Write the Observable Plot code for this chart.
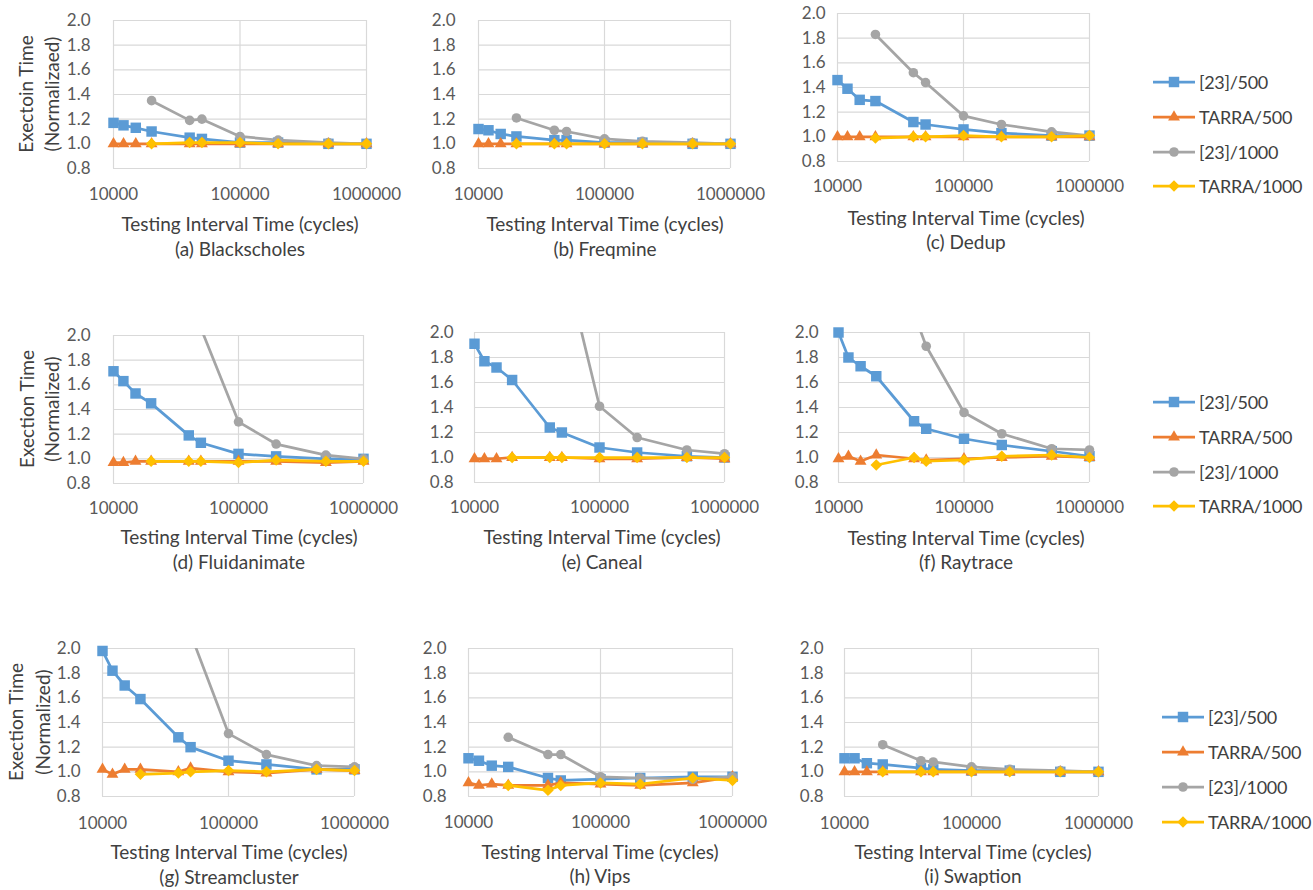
<!DOCTYPE html>
<html><head><meta charset="utf-8">
<script src="https://cdn.jsdelivr.net/npm/d3@7"></script>
<script src="https://cdn.jsdelivr.net/npm/@observablehq/plot@0.6"></script>
<style>
html,body{margin:0;padding:0;background:#fff;}
#root{position:relative;width:1313px;height:890px;overflow:hidden;font-family:Lato,"Open Sans",sans-serif;color:#595959;}
.t{position:absolute;transform:translate(-50%,-50%);white-space:nowrap;font-size:19px;color:#404040;line-height:1;}
.yt{position:absolute;transform:translate(-50%,-50%) rotate(-90deg);white-space:nowrap;font-size:19px;color:#404040;line-height:1;}
.lg{position:absolute;display:flex;align-items:center;transform:translateY(-50%);font-size:18px;letter-spacing:-0.3px;color:#404040;white-space:nowrap;}
svg.p{position:absolute;}
</style></head><body><div id="root"></div>
<script>
// ---- data ----
const intervals = [10000, 12000, 15000, 20000, 40000, 50000, 100000, 200000, 500000, 1000000];
const intervals1000 = [20000, 40000, 50000, 100000, 200000, 500000, 1000000];
const panelNames = ["(a) Blackscholes", "(b) Freqmine", "(c) Dedup", "(d) Fluidanimate", "(e) Caneal", "(f) Raytrace", "(g) Streamcluster", "(h) Vips", "(i) Swaption"];
const seriesNames = ["[23]/500", "TARRA/500", "[23]/1000", "TARRA/1000"];
const xTicks = [10000, 100000, 1000000];
const yTicks = [0.8, 1.0, 1.2, 1.4, 1.6, 1.8, 2.0];
const xTitle = "Testing Interval Time (cycles)";
const yTitleA = ["Exectoin Time", "(Normalizaed)"];
const yTitleB = ["Exection Time", "(Normalized)"];

const ref500 = [
  [1.17, 1.15, 1.13, 1.10, 1.05, 1.04, 1.01, 1.01, 1.00, 1.00],
  [1.12, 1.11, 1.08, 1.06, 1.03, 1.03, 1.01, 1.01, 1.00, 1.00],
  [1.46, 1.39, 1.30, 1.29, 1.12, 1.10, 1.06, 1.03, 1.01, 1.01],
  [1.71, 1.63, 1.53, 1.45, 1.19, 1.13, 1.04, 1.02, 1.00, 1.00],
  [1.91, 1.77, 1.72, 1.62, 1.24, 1.20, 1.08, 1.04, 1.01, 1.00],
  [2.00, 1.80, 1.73, 1.65, 1.29, 1.23, 1.15, 1.10, 1.05, 1.01],
  [1.98, 1.82, 1.70, 1.59, 1.28, 1.20, 1.09, 1.06, 1.02, 1.02],
  [1.11, 1.09, 1.05, 1.04, 0.95, 0.93, 0.94, 0.95, 0.96, 0.96],
  [1.11, 1.11, 1.07, 1.06, 1.03, 1.02, 1.01, 1.01, 1.00, 1.00]
];
const tarra500 = [
  [1.00, 1.00, 1.00, 1.00, 1.00, 1.00, 1.00, 1.00, 1.00, 1.00],
  [1.00, 1.00, 1.00, 1.00, 1.00, 1.00, 1.00, 1.00, 1.00, 1.00],
  [1.00, 1.00, 1.00, 1.00, 1.00, 1.00, 1.00, 1.00, 1.00, 1.00],
  [0.97, 0.97, 0.98, 0.98, 0.98, 0.98, 0.98, 0.98, 0.97, 0.98],
  [0.99, 0.99, 0.99, 1.00, 1.00, 1.00, 0.99, 0.99, 1.00, 0.99],
  [0.99, 1.01, 0.97, 1.02, 0.99, 0.98, 0.99, 1.00, 1.01, 1.00],
  [1.02, 0.98, 1.02, 1.02, 1.00, 1.03, 1.00, 0.99, 1.02, 1.01],
  [0.91, 0.89, 0.90, 0.89, 0.89, 0.91, 0.90, 0.89, 0.91, 0.96],
  [1.00, 1.00, 1.00, 1.00, 1.00, 1.00, 1.00, 1.00, 1.00, 1.00]
];
const ref1000 = [
  [1.35, 1.19, 1.20, 1.06, 1.03, 1.01, 1.00],
  [1.21, 1.11, 1.10, 1.04, 1.02, 1.01, 1.00],
  [1.83, 1.52, 1.44, 1.17, 1.10, 1.04, 1.01],
  [3.20, 2.40, 2.06, 1.30, 1.12, 1.03, 1.00],
  [3.80, 3.00, 2.65, 1.41, 1.16, 1.06, 1.03],
  [3.50, 2.15, 1.89, 1.36, 1.19, 1.07, 1.06],
  [3.40, 2.50, 2.12, 1.31, 1.14, 1.05, 1.04],
  [1.28, 1.14, 1.14, 0.96, 0.95, 0.94, 0.96],
  [1.22, 1.09, 1.08, 1.04, 1.02, 1.01, 1.00]
];
const tarra1000 = [
  [1.00, 1.01, 1.01, 1.01, 1.00, 1.00, 1.00],
  [1.00, 1.00, 1.00, 1.00, 1.00, 1.00, 1.00],
  [0.99, 1.00, 1.00, 1.01, 1.00, 1.00, 1.01],
  [0.98, 0.98, 0.98, 0.97, 0.99, 0.98, 0.98],
  [1.00, 1.00, 1.00, 1.00, 1.00, 1.00, 1.00],
  [0.94, 1.00, 0.97, 0.98, 1.01, 1.02, 1.00],
  [0.98, 0.99, 1.00, 1.01, 1.00, 1.02, 1.01],
  [0.89, 0.85, 0.89, 0.91, 0.90, 0.95, 0.93],
  [1.00, 1.00, 1.00, 1.00, 1.00, 1.00, 1.00]
];

// ---- styling / layout ----
const colors = ["#5B9BD5", "#ED7D31", "#A5A5A5", "#FFC000"];
const symbols = ["square", "triangle", "circle", "diamond2"];
const d3symbols = [d3.symbolSquare, d3.symbolTriangle, d3.symbolCircle, d3.symbolDiamond2];
const radii = [5.9, 4.4, 4.8, 5.2];
// [plotLeft, plotRight, plotTop, plotBottom, yLabelGap, xLabelPad]
const layout = [
  [113, 366, 20, 168, 23, 19],
  [478, 730, 20, 168, 23, 19],
  [837, 1089, 13, 161, 12, 18],
  [113, 363, 335, 483, 23, 18],
  [474, 724, 332, 482, 21, 18],
  [838, 1089, 332, 482, 20, 18],
  [102, 354, 648, 796, 22, 20],
  [468, 732, 648, 796, 22, 19],
  [844, 1098, 648, 796, 21, 20]
];
// caption centers: [titleX, titleY, subY]
const captions = [
  [240, 223, 248], [605, 223, 248], [966, 217, 241],
  [239, 536, 561], [602, 536, 561], [966, 537, 561],
  [229, 851, 876], [600, 851, 875], [973, 851, 875]
];
const yTitleLayout = [
  [0, yTitleA, 25, 51], [3, yTitleB, 26, 51], [6, yTitleB, 15, 42]
];
const legendLayout = [
  [1153, 42, [82, 117, 152, 186]],
  [1153, 42, [402, 437, 472, 506]],
  [1162, 42, [717, 752, 787, 822]]
];

const root = document.getElementById("root");

function panel(i) {
  const [L, R, T, B, gap, pad] = layout[i];
  const mL = 70, mR = 45, mT = 14, mB = 40;
  const rows = (vals, xs) => xs.map((x, k) => ({x, y: vals[k]}));
  const series = [
    rows(ref500[i], intervals), rows(tarra500[i], intervals),
    rows(ref1000[i], intervals1000), rows(tarra1000[i], intervals1000)
  ];
  const marks = [
    Plot.gridX({ticks: xTicks, stroke: "#D9D9D9", strokeOpacity: 1, strokeWidth: 1.2}),
    Plot.gridY({ticks: yTicks, stroke: "#D9D9D9", strokeOpacity: 1, strokeWidth: 1.2}),
    Plot.axisX({ticks: xTicks, tickSize: 0, tickPadding: pad, tickFormat: d => String(d), label: null}),
    Plot.axisY({ticks: yTicks, tickSize: 0, tickPadding: gap, tickFormat: d => d.toFixed(1), label: null})
  ];
  series.forEach((s, j) => {
    marks.push(Plot.line(s, {x: "x", y: "y", stroke: colors[j], strokeWidth: 2.75, clip: j === 2}));
    marks.push(Plot.dot(s.filter(d => d.y <= 2.0001), {x: "x", y: "y", symbol: symbols[j], fill: colors[j], r: radii[j]}));
  });
  const svg = Plot.plot({
    width: R - L + mL + mR, height: B - T + mT + mB,
    marginLeft: mL, marginRight: mR, marginTop: mT, marginBottom: mB,
    x: {type: "log", domain: [1e4, 1e6]},
    y: {domain: [0.8, 2.0]},
    style: {fontFamily: "Lato, 'Open Sans', sans-serif", fontSize: "17px", color: "#595959", background: "transparent", overflow: "visible"},
    marks
  });
  svg.classList.add("p");
  svg.style.left = (L - mL) + "px";
  svg.style.top = (T - mT) + "px";
  root.appendChild(svg);

  const [tx, ty, sy] = captions[i];
  const t1 = document.createElement("div");
  t1.className = "t"; t1.textContent = xTitle;
  t1.style.left = tx + "px"; t1.style.top = ty + "px";
  root.appendChild(t1);
  const t2 = document.createElement("div");
  t2.className = "t"; t2.textContent = panelNames[i];
  t2.style.left = tx + "px"; t2.style.top = sy + "px";
  root.appendChild(t2);
}
for (let i = 0; i < 9; i++) panel(i);

for (const [pi, lines, x1, x2] of yTitleLayout) {
  const [L, R, T, B] = layout[pi];
  const cy = (T + B) / 2;
  [[lines[0], x1], [lines[1], x2]].forEach(([txt, x]) => {
    const d = document.createElement("div");
    d.className = "yt"; d.textContent = txt;
    d.style.left = x + "px"; d.style.top = cy + "px";
    root.appendChild(d);
  });
}

for (const [lx, lw, ys] of legendLayout) {
  ys.forEach((y, j) => {
    const d = document.createElement("div");
    d.className = "lg";
    d.style.left = lx + "px"; d.style.top = y + "px";
    const s = d3.create("svg").attr("width", lw + 3).attr("height", 16).style("display", "block");
    s.append("line").attr("x1", 0).attr("x2", lw).attr("y1", 8).attr("y2", 8)
      .attr("stroke", colors[j]).attr("stroke-width", 2.75);
    s.append("path").attr("transform", `translate(${lw / 2},8)`)
      .attr("d", d3.symbol(d3symbols[j], Math.PI * radii[j] * radii[j])())
      .attr("fill", colors[j]);
    d.appendChild(s.node());
    const span = document.createElement("span");
    span.textContent = seriesNames[j];
    span.style.marginLeft = "1px";
    d.appendChild(span);
    root.appendChild(d);
  });
}
</script></body></html>
